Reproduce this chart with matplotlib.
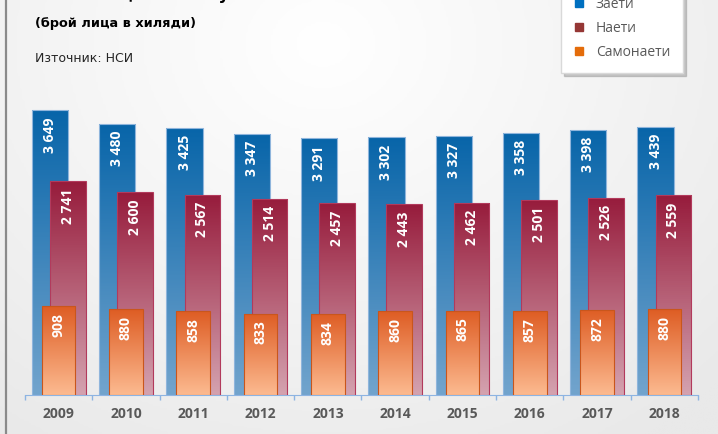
import numpy as np
import matplotlib.pyplot as plt
from matplotlib.colors import LinearSegmentedColormap
from matplotlib.lines import Line2D

# data (thousands of people)
years = ['2009', '2010', '2011', '2012', '2013', '2014', '2015', '2016', '2017', '2018']
employed = [3649, 3480, 3425, 3347, 3291, 3302, 3327, 3358, 3398, 3439]
hired = [2741, 2600, 2567, 2514, 2457, 2443, 2462, 2501, 2526, 2559]
self_emp = [908, 880, 858, 833, 834, 860, 865, 857, 872, 880]
labels = ['Заети', 'Наети', 'Самонаети']

W, H = 718, 434
fig = plt.figure(figsize=(W / 100, H / 100), dpi=100)

# soft gray background
bg = fig.add_axes([0, 0, 1, 1], zorder=-10)
yy, xx = np.mgrid[0:1:200j, 0:1:300j]
r = np.sqrt(((xx - 0.45) * 1.4) ** 2 + (yy - 0.1) ** 2)
bg.imshow(r, cmap=LinearSegmentedColormap.from_list('bg', ['#ffffff', '#e9e9e9']),
          extent=[0, 1, 0, 1], aspect='auto', vmin=0, vmax=1.1)
bg.axis('off')

ax = fig.add_axes([25 / W, 39 / H, 673 / W, 335 / H])
ax.patch.set_alpha(0)
ax2 = ax.twinx()

x = np.arange(len(years))


def fmt(v):
    return f"{v:,}".replace(",", " ")


def grad_bars(a, xs, vals, width, top, bottom, edge, z):
    bars = a.bar(xs, vals, width, facecolor='none', edgecolor=edge, linewidth=0.8, zorder=z + 0.1)
    cmap = LinearSegmentedColormap.from_list('g', [bottom, top])
    for b in bars:
        x0 = b.get_x()
        im = a.imshow(np.linspace(0, 1, 100).reshape(-1, 1), cmap=cmap, origin='lower',
                      extent=[x0, x0 + b.get_width(), 0, b.get_height()],
                      aspect='auto', zorder=z)
        im.set_clip_path(b)
    for b, v in zip(bars, vals):
        a.annotate(fmt(v), (b.get_x() + b.get_width() / 2, v), xytext=(0, -5),
                   textcoords='offset points', rotation=90, ha='center', va='top',
                   color='white', fontweight='bold', fontsize=10, family='Open Sans',
                   zorder=z + 0.2)
    return bars


grad_bars(ax, x - 0.13, employed, 0.54, '#0865a9', '#72a4cd', '#8fb5dc', 2)
grad_bars(ax, x + 0.135, hired, 0.53, '#971c3c', '#d4a2af', '#b23a5c', 3)
grad_bars(ax2, x, self_emp, 0.5, '#de5d24', '#fcba90', '#c9561c', 2)

ax.set_xlim(-0.5, len(years) - 0.5)
ax.set_ylim(0, 4295)
ax2.set_ylim(0, 3436)

for s in ['top', 'left', 'right']:
    ax.spines[s].set_visible(False)
ax.spines['bottom'].set_color('#8db4e2')
for s in ax2.spines.values():
    s.set_visible(False)
ax.set_yticks([])
ax2.set_yticks([])

ax.set_xticks(x, years)
ax.set_xticks(np.arange(-0.5, len(years), 1), minor=True)
ax.tick_params(axis='x', which='major', length=0, pad=9, labelsize=10, labelcolor='#595959')
ax.tick_params(axis='x', which='minor', length=3.6, width=1, color='#8db4e2')
for lbl in ax.get_xticklabels():
    lbl.set_fontweight('bold')
    lbl.set_family('Open Sans')

# legend
handles = [Line2D([], [], marker='s', linestyle='none', markersize=6, color=c)
           for c in ['#0070c0', '#953735', '#e46c0a']]
fig.legend(handles, labels, loc='lower left', bbox_to_anchor=(557 / W, (H - 77) / H),
           prop={'family': 'Open Sans', 'size': 10}, labelcolor='#595959',
           handlelength=0.7, handletextpad=0.9, labelspacing=0.65, borderpad=0.9,
           borderaxespad=0.3, fancybox=False, edgecolor='#d9d9d9', framealpha=1,
           shadow={'color': '0.6', 'alpha': 0.5})

# texts
fig.text(35 / W, 1 + 6 / H, 'Заети лица по статус в заетостта 2009-2018',
         fontweight='bold', fontsize=12, va='center')
fig.text(35 / W, 1 - 23 / H, '(брой лица в хиляди)', fontweight='bold', fontsize=9.3, va='center')
fig.text(35 / W, 1 - 59 / H, 'Източник: НСИ', fontsize=9, va='center', color='#262626')

# left border line
fig.add_artist(Line2D([6 / W, 6 / W], [0, 1], color='#8a8a8a', lw=1.6, transform=fig.transFigure))

fig.savefig('out.png', dpi=100)
